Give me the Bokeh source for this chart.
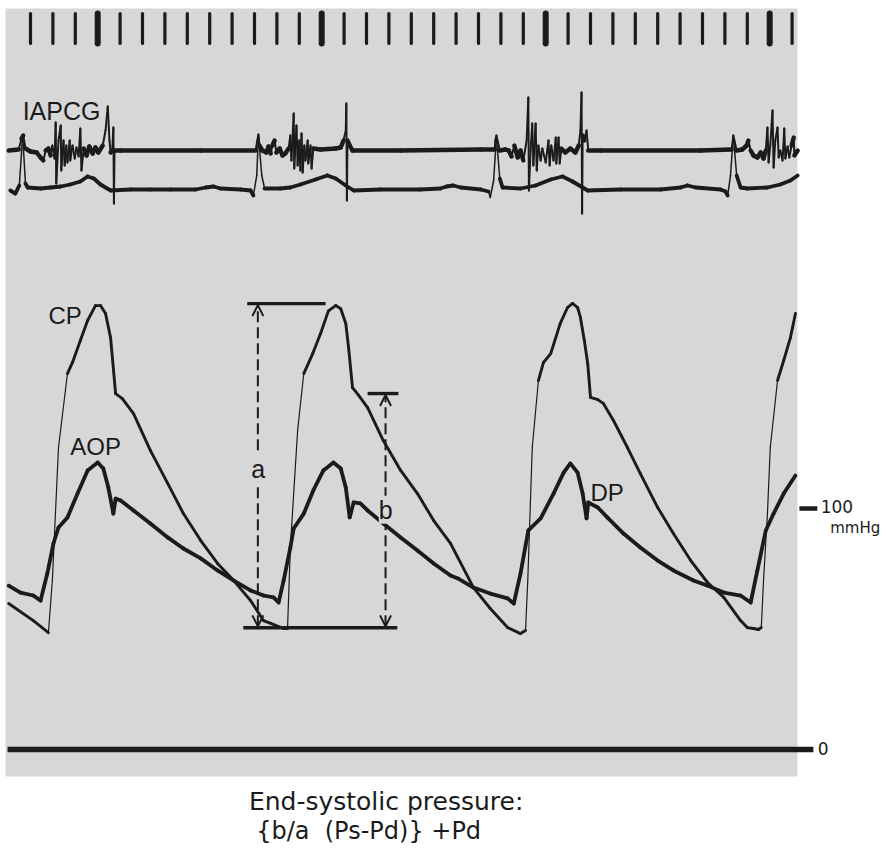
from bokeh.plotting import figure
from bokeh.models import Range1d, BoxAnnotation, Label, Arrow, OpenHead, ColumnDataSource
from bokeh.embed import file_html
from bokeh.resources import INLINE

# ---------------- data (time in ms, pressures in mmHg) ----------------
# time-marker ticks (every 40 ms), heavier every 10th
marker_ms = [0, 40, 80, 120, 160, 200, 240, 280, 320, 360, 400, 440, 480, 520, 560,
             600, 640, 680, 720, 760, 800, 840, 880, 920, 960, 1000, 1040, 1080,
             1120, 1160, 1200, 1240, 1280, 1320, 1360]
marker_major_ms = [120, 520, 920, 1320]

# CP trace
cp_t = [-39, 5, 32, 39, 50, 66, 75, 89, 102, 116, 125, 134, 143, 152, 164, 184, 214, 245,
        273, 304, 334, 363, 393, 416, 429, 452,
        459, 464, 477, 488, 504, 518, 532, 545, 554, 563, 568, 575, 586, 602, 630, 661,
        691, 720, 750, 791, 821, 852, 875,
        884, 888, 896, 907, 916, 929, 946, 959, 968, 977, 982, 989, 995, 1000, 1013, 1023,
        1041, 1066, 1089, 1120, 1148, 1179, 1209, 1238, 1268, 1280, 1291, 1300,
        1305, 1309, 1316, 1321, 1334, 1345, 1357, 1366]
cp_p = [60.6, 53.5, 48.5, 70.1, 125.3, 156.0, 160.6, 169.7, 178.0, 184.2, 184.2, 180.9,
        170.9, 147.7, 145.6, 139.4, 124.1, 110.4, 97.9, 86.7, 77.2, 70.1, 61.8, 53.5,
        52.3, 50.2,
        50.2, 83.8, 132.4, 156.0, 164.3, 172.6, 182.0, 184.2, 182.9, 176.8, 166.8, 150.2,
        146.9, 141.9, 128.2, 115.8, 106.2, 95.0, 85.5, 67.2, 58.5, 50.6, 48.1,
        49.4, 70.1, 125.3, 153.1, 160.6, 164.3, 176.8, 183.4, 185.1, 183.4, 179.3, 169.7,
        160.2, 146.1, 145.2, 143.6, 136.5, 125.3, 114.5, 100.4, 89.6, 78.4, 69.3, 63.1,
        53.5, 50.6, 50.2, 49.8,
        50.6, 70.1, 97.9, 125.3, 153.1, 161.4, 170.9, 180.9]

# AOP trace
aop_t = [-39, -18, 5, 18, 30, 41, 50, 66, 84, 102, 120, 130, 139, 148, 152, 161, 184, 214,
         245, 273, 304, 334, 363, 393, 416, 434, 443,
         452, 464, 470, 488, 505, 523, 541, 554, 563, 570, 577, 589, 602, 630, 661, 691,
         720, 750, 763, 791, 821, 852, 863,
         875, 889, 911, 934, 952, 964, 977, 986, 993, 996, 1013, 1030, 1059, 1089, 1120,
         1148, 1184, 1209, 1238, 1268, 1286,
         1298, 1313, 1327, 1345, 1366]
aop_p = [68.0, 65.1, 63.9, 61.8, 73.0, 85.5, 92.1, 96.3, 106.2, 115.8, 119.1, 116.6, 108.7,
         97.9, 104.1, 103.3, 99.2, 93.8, 88.0, 83.4, 79.3, 74.3, 70.1, 66.0, 63.9, 63.1, 61.0,
         70.1, 83.8, 91.7, 97.9, 107.5, 115.8, 119.1, 116.6, 108.7, 96.3, 102.5, 102.1, 99.2,
         93.8, 88.0, 82.6, 77.2, 72.2, 71.0, 67.2, 64.7, 62.7, 60.6,
         73.0, 90.9, 95.9, 106.2, 114.9, 118.7, 114.9, 106.2, 95.9, 102.5, 100.4, 96.3, 89.6,
         83.8, 78.4, 74.3, 70.1, 68.0, 65.1, 63.9, 61.0,
         74.3, 90.9, 97.9, 106.2, 113.7]

# ECG trace (mV)
ecg_t = [-36, -27, -20, -14, -9, -5, 18, 36, 54, 71, 89, 102, 113, 125, 143, 179, 214, 250,
         295, 313, 327, 339, 375, 393, 398, 404, 407, 413, 418, 446, 464, 482, 509, 530, 545,
         563, 577, 625, 696, 732, 743, 755, 768, 804, 818, 821, 827, 832, 838, 843, 875, 902,
         929, 950, 968, 995, 1054, 1125, 1161, 1173, 1188, 1232, 1241, 1245, 1250, 1255, 1261,
         1268, 1280, 1316, 1339, 1357, 1370]
ecg_mv = [-0.05, -0.125, 0.075, 1.325, 0.125, 0.025, 0.0, 0.025, 0.05, 0.1, 0.175, 0.3, 0.25,
          0.1, -0.05, -0.025, -0.025, -0.025, -0.025, 0.025, 0.05, 0.0, -0.025, -0.05, -0.175,
          0.325, 1.325, 0.325, 0.0, 0.0, 0.025, 0.1, 0.225, 0.325, 0.25, 0.075, -0.05, -0.025,
          -0.025, 0.0, 0.05, 0.075, 0.025, -0.025, -0.075, -0.225, 0.2, 1.275, 0.25, 0.025, 0.0,
          0.075, 0.225, 0.3, 0.175, -0.05, -0.025, -0.025, 0.025, 0.075, 0.025, -0.025, -0.075,
          -0.175, 0.325, 1.325, 0.325, 0.025, 0.0, 0.025, 0.1, 0.2, 0.325]

# IAPCG trace (arbitrary units)
pcg_t = [-39, -21, -16, -13, -9, 0, 11, 18, 23, 27, 32, 36, 39, 43, 45, 46, 50, 54, 55, 59,
         61, 64, 66, 70, 71, 75, 79, 82, 86, 89, 91, 95, 100, 105, 111, 116, 121, 129, 134,
         138, 141, 143, 146, 148, 149, 150, 161, 304, 402, 405, 407, 409, 414,
         421, 425, 429, 432, 436, 439, 445, 450, 455, 461, 464, 466, 470, 471, 475, 477, 480,
         482, 484, 486, 489, 491, 495, 496, 500, 502, 505, 518, 545, 554, 559, 563, 564, 565,
         566, 570, 575, 661, 804, 829, 830, 832, 834, 838,
         848, 854, 859, 864, 870, 875, 880, 886, 889, 890, 893, 896, 898, 902, 904, 907, 911,
         914, 920, 925, 927, 930, 934, 938, 939, 943, 945, 948, 955, 964, 973, 979, 982, 984,
         985, 986, 989, 993, 996, 1018, 1196, 1252, 1254, 1255, 1257, 1261,
         1271, 1279, 1282, 1286, 1291, 1298, 1304, 1309, 1313, 1316, 1318, 1321, 1325, 1327,
         1330, 1334, 1336, 1339, 1343, 1346, 1348, 1352, 1355, 1359, 1363, 1364, 1370]
pcg_au = [0, 1, 12, 15, 2, -1, -2, -7, -10, 0, 2, -5, 5, -8, 28, -33, 10, 25, -20, 10,
          -15, 5, -12, 10, -10, 5, -8, 3, -6, 22, -20, 2, -5, 4, -3, 3, -2, 5, 20,
          44, 10, -2, 0, 23, -53, 0, 0, 0, 0, 10, 16, 5, 0,
          -2, 4, -3, 5, 10, -2, 2, -5, -3, 2, 15, -10, 37, -18, 25, -15, 10,
          -20, 17, -22, 5, -10, 10, -13, 5, -18, 2, 1, 2, 3, 10, 20, 47, -50,
          10, 5, 0, 0, 1, 1, 10, 15, 10, 0,
          1, 0, -6, 5, -7, 0, -10, 10, 53, -40, 0, 27, -15, 27, -20, 5, -10,
          2, -12, 10, -15, 5, -10, 13, -13, 13, -13, 2, -2, 2, -2, 5, 20, 58,
          -63, 15, 10, 20, 0, 0, 0, 1, 10, 15, 10, 0,
          1, 5, 10, 0, -5, -7, -2, -8, 0, 23, -12, 5, 40, -17,
          10, 23, -7, 0, -10, 22, -8, 4, -7, 5, 13, -5, 0]

# measurement used for the end-systolic pressure construction (mmHg)
ps_mmHg = 185.0    # peak systolic (top of "a")
pd_mmHg = 50.5     # end-diastolic (base line)
pes_b_mmHg = 147.7  # top of "b"
a_ms = 406         # time of arrow a
b_ms = 634         # time of arrow b

# ---------------- styling ----------------
INK = "#1b1b1b"
PANEL = "#d7d7d7"

p = figure(width=887, height=859, output_backend="svg", toolbar_location=None,
           x_range=Range1d(-53.57, 1530.36), y_range=Range1d(-45.64, 310.79),
           min_border=0, x_axis_location=None, y_axis_location=None,
           background_fill_color="white", border_fill_color="white",
           outline_line_color=None)
p.grid.grid_line_color = None
p.extra_y_ranges = {"ecg": Range1d(-16.775, 4.7),
                    "pcg": Range1d(-709, 150),
                    "mark": Range1d(-27.2, 1.4333)}

# grey recording paper
p.add_layout(BoxAnnotation(left=-44.6, right=1369.6, bottom=-11.2, top=307.5,
                           fill_color=PANEL, fill_alpha=1.0, line_color=None,
                           level="underlay"))


def trace(t, v, rng, thick, thin, is_fast):
    x0, x1, y0, y1, w = [], [], [], [], []
    for i in range(len(t) - 1):
        x0.append(t[i]); x1.append(t[i + 1]); y0.append(v[i]); y1.append(v[i + 1])
        dt = max(t[i + 1] - t[i], 0.5)
        w.append(thin if is_fast((v[i + 1] - v[i]) / dt) else thick)
    src = ColumnDataSource(dict(x0=x0, x1=x1, y0=y0, y1=y1, w=w))
    p.segment("x0", "y0", "x1", "y1", source=src, line_width="w", line_color=INK,
              line_cap="round", line_join="round", y_range_name=rng)


# time marker
mk_w = [6.0 if m in marker_major_ms else 3.2 for m in marker_ms]
p.segment(x0=marker_ms, y0=[0] * len(marker_ms), x1=marker_ms, y1=[1] * len(marker_ms),
          line_width=mk_w, line_color=INK, line_cap="round", y_range_name="mark")

# IAPCG and ECG
trace(pcg_t, pcg_au, "pcg", 4.4, 2.0, lambda s: abs(s) > 2.0)
trace(ecg_t, ecg_mv, "ecg", 3.8, 1.5, lambda s: abs(s) > 0.05)

# pressure traces
trace(aop_t, aop_p, "default", 3.8, 3.8, lambda s: False)
trace(cp_t, cp_p, "default", 2.9, 1.2, lambda s: s > 1.5)

# zero line and 100 mmHg mark
p.segment(x0=[-41], y0=[0], x1=[1398], y1=[0], line_width=5.5, line_color=INK)
p.segment(x0=[1373], y0=[100], x1=[1405], y1=[100], line_width=4.5, line_color=INK)

# construction lines for end-systolic pressure
p.segment(x0=[387, 380, 602], y0=[ps_mmHg, pd_mmHg, pes_b_mmHg],
          x1=[527, 655, 657], y1=[ps_mmHg, pd_mmHg, pes_b_mmHg],
          line_width=3.4, line_color=INK)
for xm, top in [(a_ms, ps_mmHg), (b_ms, pes_b_mmHg)]:
    p.add_layout(Arrow(x_start=xm, y_start=pd_mmHg + 0.6, x_end=xm, y_end=top - 0.6,
                       start=OpenHead(size=11, line_width=2, line_color=INK),
                       end=OpenHead(size=11, line_width=2, line_color=INK),
                       line_width=2, line_color=INK, line_dash="11 5"))


def label(x, y, text, size, font="Liberation Sans", rng="default", bg=None):
    p.add_layout(Label(x=x, y=y, text=text, text_font=font, text_font_size=size,
                       text_color=INK, text_baseline="alphabetic", y_range_name=rng,
                       background_fill_color=bg, background_fill_alpha=1.0))


NBSP = "\u00a0"
label(-14, 40, "IAPCG", "25px", rng="pcg")
label(32, 180.0, "CP", "24px")
label(71, 125.6, "AOP", "24px")
label(1000, 106.5, "DP", "24px")
label(394, 116.5, "a", "25px", bg=PANEL)
label(622, 99.5, "b", "25px", bg=PANEL)
label(1411, 100.7, "100", "17px", font="DejaVu Sans")
label(1428, 92.0, "mmHg", "15px", font="DejaVu Sans")
label(1406, 0.4, "0", "17px", font="DejaVu Sans")
label(390, -21.7, "End-systolic pressure:", "25px", font="DejaVu Sans")
label(403, -33.7, "{b/a" + NBSP + NBSP + "(Ps-Pd)}" + NBSP + "+Pd", "24px",
      font="DejaVu Sans")

open("out.html", "w").write(file_html(p, INLINE))
